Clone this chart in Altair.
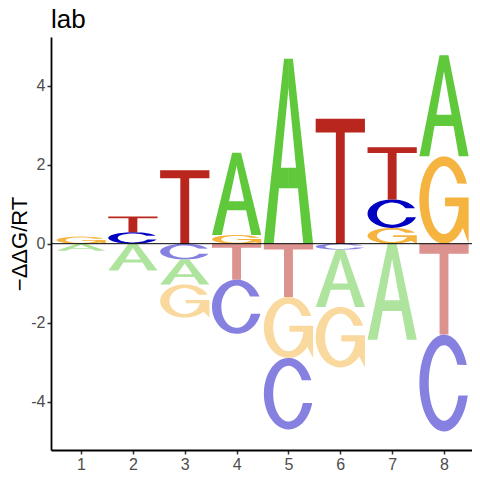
import altair as alt
import numpy as np
import pandas as pd

# ---- data (one value per letter per position) ----
positions = [1, 2, 3, 4, 5, 6, 7, 8]
val_A = [-0.18, -0.68, -0.63, 2.08, 4.68, -1.45, -2.43, 2.56]
val_C = [0.00, 0.29, -0.40, -1.37, -1.81, -0.15, 0.72, -2.45]
val_G = [0.18, 0.00, -0.84, 0.22, -1.54, -1.53, 0.40, 2.21]
val_T = [0.00, 0.40, 1.86, -0.91, -1.35, 3.16, 1.32, -2.30]
y_ticks = [-4, -2, 0, 2, 4]

colors_pos = {"A": "#5FC93B", "C": "#0000C0", "G": "#F5B33F", "T": "#B8261E"}
colors_neg = {"A": "#AFE49E", "C": "#8681E1", "G": "#FAD99F", "T": "#DC928E"}

LETTER_W = 0.95


# ---- letter outlines in a unit box (shape definitions only) ----
def arc(cx, cy, rx, ry, a0, a1, n=48):
    t = np.radians(np.linspace(a0, a1, n))
    return list(zip(cx + rx * np.cos(t), cy + ry * np.sin(t)))


def glyph(letter):
    if letter == "T":
        return [[(0, 1), (1, 1), (1, 0.89), (0.59, 0.89), (0.59, 0),
                 (0.41, 0), (0.41, 0.89), (0, 0.89)]]
    if letter == "A":
        left = [(0, 0), (0.2, 0), (0.307, 0.30), (0.505, 0.30), (0.505, 0.41),
                (0.346, 0.41), (0.5, 0.84), (0.505, 0.84), (0.505, 1), (0.41, 1)]
        right = [(1 - u, v) for u, v in left]
        return [left, right]
    if letter == "C":
        return [arc(0.5, 0.5, 0.5, 0.5, 22, 345) + arc(0.5, 0.5, 0.31, 0.39, 340.5, 29)]
    if letter == "G":
        phi = -np.degrees(np.arccos(0.30 / 0.31))
        pts = arc(0.5, 0.5, 0.5, 0.5, 22, 320)
        pts += [(1.0, 0.0), (1.0, 0.53), (0.52, 0.53), (0.52, 0.43), (0.8, 0.43)]
        pts += arc(0.5, 0.5, 0.31, 0.39, 360 + phi, 29)
        return [pts]
    return []


rows = []
gid = 0


def add_letter(p, y0, y1, letter, color):
    global gid
    for poly in glyph(letter):
        gid += 1
        for k, (u, v) in enumerate(poly):
            rows.append({"g": gid, "k": k,
                         "x": p - LETTER_W / 2 + u * LETTER_W,
                         "y": y0 + v * (y1 - y0),
                         "c": color})


for i, p in enumerate(positions):
    vals = {"A": val_A[i], "C": val_C[i], "G": val_G[i], "T": val_T[i]}
    pos = sorted((v, l) for l, v in vals.items() if v > 0)
    neg = sorted((-v, l) for l, v in vals.items() if v < 0)
    base = 0.0
    for v, l in pos:
        add_letter(p, base, base + v, l, colors_pos[l])
        base += v
    base = 0.0
    for v, l in neg:
        add_letter(p, base - v, base, l, colors_neg[l])
        base -= v

df = pd.DataFrame(rows)

FONT = "Liberation Sans"

x_scale = alt.Scale(domain=[0.42, 8.54], nice=False, zero=False)
y_scale = alt.Scale(domain=[-5.22, 5.23], nice=False, zero=False)

letters = alt.Chart(df).mark_line(strokeWidth=0, strokeOpacity=0).encode(
    x=alt.X("x:Q", scale=x_scale,
            axis=alt.Axis(values=positions, title=None, format="d")),
    y=alt.Y("y:Q", scale=y_scale,
            axis=alt.Axis(values=y_ticks, title="−ΔΔG/RT", titleX=-20,
                          labelExpr="datum.value < 0 ? '-' + abs(datum.value) : '' + datum.value")),
    detail="g:N",
    order="k:Q",
    fill=alt.Fill("c:N", scale=None),
)

zero = alt.Chart(pd.DataFrame({"y": [0]})).mark_rule(color="black", strokeWidth=1).encode(
    y=alt.Y("y:Q", scale=y_scale)
)

chart = (
    alt.layer(letters, zero)
    .properties(
        width=421, height=413,
        autosize=alt.AutoSizeParams(type="none"),
        padding={"left": 43, "top": 29, "right": 0, "bottom": 22},
        title=alt.Title("lab", anchor="start", frame="group", font=FONT,
                        fontSize=26, fontWeight="normal", color="black", offset=4),
    )
    .configure_view(stroke=None)
    .configure_axis(
        grid=False, domainColor="black", domainWidth=1.8,
        tickColor="#333333", tickSize=4, tickWidth=1.5,
        labelFont=FONT, labelFontSize=16, labelColor="#4D4D4D", labelPadding=2,
        titleFont=FONT, titleFontSize=22, titleFontWeight="normal", titleColor="black",
    )
)

chart.save("out.html", embed_options={"renderer": "svg", "actions": False})
